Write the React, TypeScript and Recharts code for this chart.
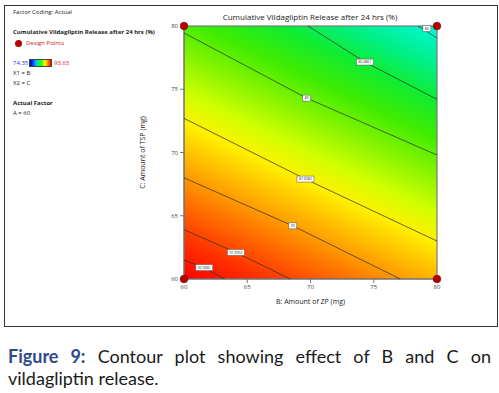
import React from 'react';
import { ComposedChart, XAxis, YAxis, Scatter, ReferenceArea, Label } from 'recharts';

const zpTicks = [60, 65, 70, 75, 80];
const tspTicks = [60, 65, 70, 75, 80];

const designPoints = [
  { x: 60, y: 60 },
  { x: 60, y: 80 },
  { x: 80, y: 60 },
  { x: 80, y: 80 },
];

// contour lines, top-right (low) to bottom-left (high)
const contour80 = [{ x: 78.5, y: 80 }, { x: 80, y: 79.05 }];
const contour82 = [{ x: 69.8, y: 80 }, { x: 74.3, y: 77.15 }, { x: 80, y: 74.2 }];
const contour85 = [{ x: 60, y: 79.45 }, { x: 69.7, y: 74.3 }, { x: 80, y: 69.8 }];
const contour87 = [{ x: 60, y: 72.7 }, { x: 69.6, y: 67.9 }, { x: 80, y: 63.0 }];
const contour90 = [{ x: 60, y: 68.0 }, { x: 68.6, y: 64.2 }, { x: 77.1, y: 60 }];
const contour91 = [{ x: 60, y: 63.9 }, { x: 64.1, y: 62.1 }, { x: 68.4, y: 60 }];
const contour92 = [{ x: 60, y: 61.5 }, { x: 61.6, y: 60.9 }, { x: 63.2, y: 60 }];

const contours = [contour80, contour82, contour85, contour87, contour90, contour91, contour92];

const contourLabels = [
  { x: 79.2, y: 79.8, text: '80' },
  { x: 74.3, y: 77.15, text: '82.4861' },
  { x: 69.7, y: 74.3, text: '85' },
  { x: 69.6, y: 67.9, text: '87.6082' },
  { x: 68.6, y: 64.2, text: '90' },
  { x: 64.1, y: 62.1, text: '91.9954' },
  { x: 61.6, y: 60.9, text: '92.9681' },
];

const fieldStops = [
  [0, '#ff0000'],
  [0.1, '#ff3000'],
  [0.2, '#ff6a00'],
  [0.3, '#ffa800'],
  [0.42, '#fff000'],
  [0.5, '#d0ff00'],
  [0.6, '#88f400'],
  [0.7, '#40ec00'],
  [0.8, '#10ec30'],
  [0.9, '#00f090'],
  [1, '#00f8d8'],
];

const font = '"Open Sans", sans-serif';

const NoDot = () => <g />;

const DesignDot = (props: any) => (
  <circle cx={props.cx} cy={props.cy} r={3.8} fill="#b80000" stroke="#6a0000" strokeWidth={0.6} />
);

const ContourTag = (props: any) => {
  const { cx, cy, payload } = props;
  const w = payload.text.length > 3 ? 17 : 8;
  return (
    <g>
      <rect x={cx - w / 2} y={cy - 3} width={w} height={6} fill="#fff" stroke="#555" strokeWidth={0.5} />
      <text x={cx} y={cy + 1.3} fontSize={3.5} textAnchor="middle" fill="#333" fontFamily={font}>
        {payload.text}
      </text>
    </g>
  );
};

const txt = (top: number, left: number, s: string, extra: React.CSSProperties = {}) => (
  <div style={{ position: 'absolute', top, left, fontSize: 6, lineHeight: '8px', whiteSpace: 'nowrap', color: '#222', fontFamily: font, ...extra }}>
    {s}
  </div>
);

export default function App() {
  return (
    <div style={{ position: 'absolute', left: 0, top: 0, width: 499, height: 393, background: '#fff' }}>
      <div style={{ position: 'absolute', left: 4, top: 5, width: 492, height: 320, border: '1px solid #333' }} />
      {txt(8, 13, 'Factor Coding: Actual')}
      {txt(28, 13, 'Cumulative Vildagliptin Release after 24 hrs (%)', { fontWeight: 700 })}
      <div style={{ position: 'absolute', left: 15, top: 40, width: 7, height: 7, borderRadius: 4, background: '#b80000' }} />
      {txt(39, 26, 'Design Points', { color: '#d02020' })}
      {txt(59, 13, '74.35', { color: '#3030e0' })}
      <div
        style={{
          position: 'absolute', left: 29, top: 59, width: 23, height: 8,
          background: 'linear-gradient(to right, #0000a0, #0040ff, #00c0ff, #00ff40, #40ff00, #ffff00, #ff8000, #ff0000)',
          border: '0.5px solid #444', boxSizing: 'border-box',
        }}
      />
      {txt(59, 54, '93.63', { color: '#d02020' })}
      {txt(69, 13, 'X1 = B')}
      {txt(79, 13, 'X2 = C')}
      {txt(99, 13, 'Actual Factor', { fontWeight: 700 })}
      {txt(109, 13, 'A = 60')}
      <div style={{ position: 'absolute', left: 0, top: 11, width: 620, textAlign: 'center', fontSize: 8, fontFamily: font, color: '#222' }}>
        Cumulative Vildagliptin Release after 24 hrs (%)
      </div>
      <div style={{ position: 'absolute', left: 0, top: 0 }}>
        <ComposedChart width={499} height={330} margin={{ top: 26, right: 62, bottom: 16, left: 144 }}>
          <defs>
            <linearGradient id="field" x1="0" y1="1" x2="0.57" y2="-0.2">
              {fieldStops.map(([o, c]) => (
                <stop key={String(o)} offset={o as number} stopColor={c as string} />
              ))}
            </linearGradient>
          </defs>
          <XAxis
            type="number" dataKey="x" domain={[60, 80]} ticks={zpTicks}
            height={35} tickSize={4} stroke="#777"
            tick={{ fontSize: 6, fill: '#444', fontFamily: font }}
          >
            <Label value="B: Amount of ZP (mg)" position="insideBottom" offset={10} style={{ fontSize: 7, fill: '#222', fontFamily: font }} />
          </XAxis>
          <YAxis
            type="number" dataKey="y" domain={[60, 80]} ticks={tspTicks}
            width={40} tickSize={4} stroke="#777"
            tick={{ fontSize: 6, fill: '#444', fontFamily: font }}
          >
            <Label value="C: Amount of TSP (mg)" angle={-90} position="insideLeft" offset={-1} style={{ fontSize: 7, fill: '#222', fontFamily: font, textAnchor: 'middle' }} />
          </YAxis>
          <ReferenceArea x1={60} x2={80} y1={60} y2={80} fill="url(#field)" fillOpacity={1} stroke="#666" strokeWidth={1} ifOverflow="visible" />
          {contours.map((c, i) => (
            <Scatter key={i} data={c} line={{ stroke: '#2a2a2a', strokeWidth: 0.7 }} shape={NoDot} isAnimationActive={false} legendType="none" />
          ))}
          <Scatter data={contourLabels} shape={ContourTag} isAnimationActive={false} legendType="none" />
          <Scatter data={designPoints} shape={DesignDot} isAnimationActive={false} legendType="none" />
        </ComposedChart>
      </div>
      <div style={{ position: 'absolute', left: 8, top: 345, width: 483, fontFamily: 'Lato, sans-serif', fontSize: 18, lineHeight: '22px', color: '#1a1a1a' }}>
        <div style={{ textAlign: 'justify', textAlignLast: 'justify', whiteSpace: 'normal' }}>
          <span style={{ fontWeight: 700, color: '#2e4a88' }}>Figure 9:</span> Contour plot showing effect of B and C on
        </div>
        <div>vildagliptin release.</div>
      </div>
    </div>
  );
}
